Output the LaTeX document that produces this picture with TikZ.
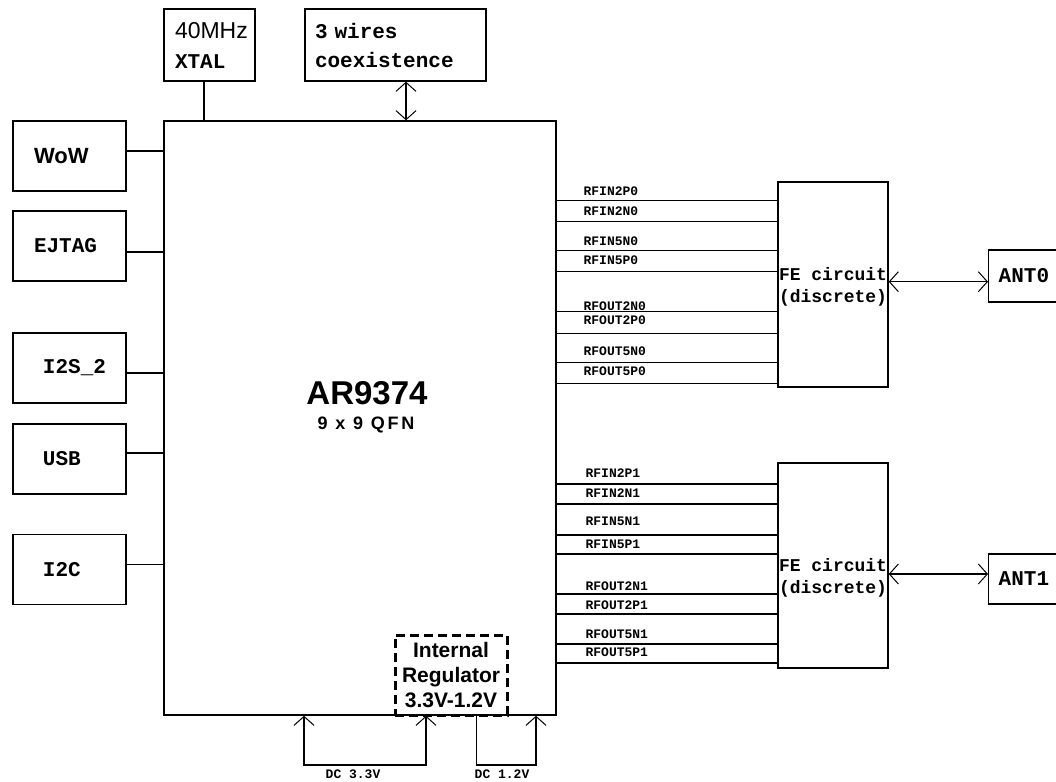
\documentclass[tikz,border=0pt]{standalone}
\usepackage{fontspec}
\setmainfont{Liberation Sans}
\newfontfamily\monofont{Liberation Mono}
\newfontfamily\spacedfont{Liberation Sans}[LetterSpace=15]
\usetikzlibrary{arrows.meta}
\begin{document}
\begin{tikzpicture}[x=1pt,y=-1pt,
  line width=1.2pt,
  >={Straight Barb[length=9pt,width=20pt,line width=1pt]},
  box/.style={draw,line width=1.4pt,inner sep=0pt},
  mono/.style={font=\monofont\bfseries\fontsize{21}{29}\selectfont},
  lbox/.style={box,mono,minimum height=70pt,text width=71pt,inner xsep=21pt,align=left},
  rf/.style={font=\monofont\bfseries\fontsize{13}{13}\selectfont,anchor=west,inner sep=0pt},
  fetext/.style={font=\monofont\bfseries\fontsize{18}{22}\selectfont,align=center,inner sep=0pt},
  antbox/.style={box,mono,anchor=west,minimum width=82pt,text width=62pt,inner xsep=10pt,align=left},
  dc/.style={font=\monofont\bfseries\fontsize{13}{13}\selectfont,inner sep=0pt}
]
\useasboundingbox (0,0) rectangle (1056,781);
\clip (0,0) rectangle (1056,781);
\fill[white] (0,0) rectangle (1056,781);

% main chip
\node[box,minimum width=392pt,minimum height=594pt] (chip) at (360,418) {};
\node[font=\bfseries\fontsize{33}{33}\selectfont,inner sep=0pt] (title) at (367,393) {AR9374};
\node[font=\spacedfont\bfseries\fontsize{18}{18}\selectfont,inner sep=0pt] (sub) at (366,425) {9 x 9 QFN};

% top boxes
\node[box,minimum width=91pt,minimum height=72pt,text width=69pt,inner xsep=11pt,align=left,
      font=\fontsize{21}{30}\selectfont] (xtal) at (209.5,45)
  {{\fontsize{23}{30}\selectfont 40MHz}\\{\monofont\bfseries XTAL}};
\node[box,mono,minimum width=181pt,minimum height=72pt,text width=161pt,inner xsep=10pt,align=left] (coex) at (395.5,45)
  {3 wires\\coexistence};

% left boxes
\node[lbox] (wow) at (69.5,156) {{\rmfamily\bfseries\fontsize{22}{29}\selectfont WoW}};
\node[lbox] (ejtag) at (69.5,246) {EJTAG};
\node[lbox] (i2s) at (69.5,368) {\hspace*{9pt}I2S\_2};
\node[lbox] (usb) at (69.5,459) {\hspace*{9pt}USB};
\node[lbox] (i2c) at (69.5,569.5) {\hspace*{9pt}I2C};

% FE circuits
\node[box,minimum width=110pt,minimum height=205pt] (fe0) at (833,284.3) {};
\node[box,minimum width=110pt,minimum height=205pt] (fe1) at (833,565.5) {};
\node[fetext] (fe0t) at (833,287) {FE circuit\\(discrete)};
\node[fetext] (fe1t) at (833,578) {FE circuit\\(discrete)};

% antennas
\node[antbox,minimum height=52pt] (ant0) at (988,276) {ANT0};
\node[antbox,minimum height=50pt] (ant1) at (988,579) {ANT1};

% regulator
\node[draw,line width=3pt,dash pattern=on 9pt off 5pt,minimum width=112pt,minimum height=80pt,
      inner sep=0pt,align=center,font=\bfseries\fontsize{21}{25}\selectfont] (reg) at (451,675)
  {Internal\\Regulator\\3.3V-1.2V};

% connectors top
\coordinate (x1) at (204,0);
\draw (x1 |- xtal.south) -- (x1 |- chip.north);
\coordinate (c1) at (406,0);
\draw[<->] (c1 |- coex.south) -- (c1 |- chip.north);

% connectors left
\coordinate (pw) at ([yshift=5pt]wow.east);
\draw (pw) -- (pw -| chip.west);
\coordinate (pe) at ([yshift=-6pt]ejtag.east);
\draw (pe) -- (pe -| chip.west);
\coordinate (pi) at ([yshift=-5pt]i2s.east);
\draw (pi) -- (pi -| chip.west);
\coordinate (pu) at ([yshift=6pt]usb.east);
\draw (pu) -- (pu -| chip.west);
\coordinate (pc) at ([yshift=5pt]i2c.east);
\draw (pc) -- (pc -| chip.west);

% RF lines
\foreach \y/\ly/\t in {200.7/191.7/RFIN2P0, 221.7/211/RFIN2N0, 250.7/241.7/RFIN5N0, 271.7/260/RFIN5P0,
                       311.7/306/RFOUT2N0, 333.3/320.7/RFOUT2P0, 362.7/351.7/RFOUT5N0, 383.3/371.7/RFOUT5P0} {
  \coordinate (t) at (0,\y);
  \draw (t -| chip.east) -- (t -| fe0.west);
  \node[rf] (l\t) at (583,\ly) {\t};
}
\foreach \y/\ly/\t in {484/473.3/RFIN2P1, 504/493.3/RFIN2N1, 535/521.7/RFIN5N1, 554/544.3/RFIN5P1,
                       594/586.7/RFOUT2N1, 614/605/RFOUT2P1, 644/634/RFOUT5N1, 663/652.7/RFOUT5P1} {
  \coordinate (t) at (0,\y);
  \draw (t -| chip.east) -- (t -| fe1.west);
  \node[rf] (l\t) at (585,\ly) {\t};
}

% antenna arrows
\coordinate (a0) at (0,281.7);
\draw[<->] (a0 -| fe0.east) -- (a0 -| ant0.west);
\coordinate (a1) at (0,574);
\draw[<->] (a1 -| fe1.east) -- (a1 -| ant1.west);

% DC supplies
\coordinate (d1) at (304,765);
\coordinate (d2) at (426,765);
\coordinate (d3) at (476.7,765);
\coordinate (d4) at (536,765);
\draw[<->] (d1 |- chip.south) -- (d1) -- (d2) -- (d2 |- chip.south);
\draw[->] (d3 |- chip.south) -- (d3) -- (d4) -- (d4 |- chip.south);
\node[dc] (dc33) at (353,774) {DC 3.3V};
\node[dc] (dc12) at (502,774) {DC 1.2V};
\end{tikzpicture}
\end{document}
